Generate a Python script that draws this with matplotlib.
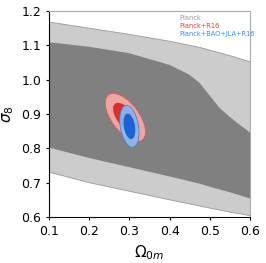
import matplotlib
matplotlib.use("Agg")
import matplotlib.pyplot as plt
import numpy as np

# Planck bands (sigma_8 vs Omega_0m)
om = [0.1, 0.2, 0.3, 0.4, 0.45, 0.475, 0.5, 0.525, 0.55, 0.575, 0.6]
outer_hi = [1.168, 1.150, 1.132, 1.112, 1.100, 1.094, 1.086, 1.078, 1.070, 1.061, 1.052]
inner_hi = [1.109, 1.096, 1.077, 1.043, 1.014, 0.990, 0.953, 0.917, 0.891, 0.868, 0.846]
inner_lo = [0.802, 0.772, 0.745, 0.718, 0.704, 0.697, 0.688, 0.680, 0.672, 0.663, 0.654]
outer_lo = [0.731, 0.700, 0.675, 0.650, 0.638, 0.632, 0.626, 0.620, 0.614, 0.609, 0.604]

# contours: center x, center y, half-width x, half-width y (2 sigma), correlation
red = dict(cx=0.290, cy=0.890, hx=0.050, hy=0.070, r=-0.6)
blue = dict(cx=0.300, cy=0.864, hx=0.024, hy=0.061, r=-0.3)
inner_scale = 0.61

labels = ["Planck", "Planck+R16", "Planck+BAO+JLA+R16"]
label_colors = ["#999999", "#e8413c", "#3b8ff0"]


def ellipse(c, s):
    t = np.linspace(0, 2 * np.pi, 200)
    a = np.arccos(c["r"])
    x = c["cx"] + s * c["hx"] * np.cos(t)
    y = c["cy"] + s * c["hy"] * np.cos(t + a)
    return x, y


fig = plt.figure(figsize=(2.66, 2.63), dpi=100)
ax = fig.add_axes([0.184, 0.175, 0.756, 0.783])

ax.fill_between(om, outer_lo, outer_hi, color="#cccccc", edgecolor="none")
ax.plot(om, outer_hi, color="#999999", lw=0.6)
ax.plot(om, outer_lo, color="#999999", lw=0.6)
ax.fill_between(om, inner_lo, inner_hi, color="#808080", edgecolor="none")

x, y = ellipse(red, 1.0)
ax.fill(x, y, color="#eda5a2", ec="#e05a55", lw=0.6)
x, y = ellipse(red, inner_scale)
ax.fill(x, y, color="#d8302c", ec="none")
x, y = ellipse(blue, 1.0)
ax.fill(x, y, color="#8fb6ec", ec="#3d7fe0", lw=0.6, alpha=0.95)
x, y = ellipse(blue, inner_scale)
ax.fill(x, y, color="#1b64d6", ec="none")

for i, (lab, col) in enumerate(zip(labels, label_colors)):
    ax.text(0.65, 0.966 - i * 0.039, lab, color=col, fontsize=4.8,
            transform=ax.transAxes, ha="left", va="center")

ax.set_xlim(0.1, 0.6)
ax.set_ylim(0.6, 1.2)
ax.set_xticks([0.1, 0.2, 0.3, 0.4, 0.5, 0.6])
ax.set_yticks([0.6, 0.7, 0.8, 0.9, 1.0, 1.1, 1.2])
ax.tick_params(labelsize=9, length=2)
ax.set_xlabel(r"$\Omega_{0m}$", fontsize=11)
ax.set_ylabel(r"$\sigma_8$", fontsize=11)
for s in ["top", "right"]:
    ax.spines[s].set_color("#aaaaaa")

fig.savefig("out.png", dpi=100)
